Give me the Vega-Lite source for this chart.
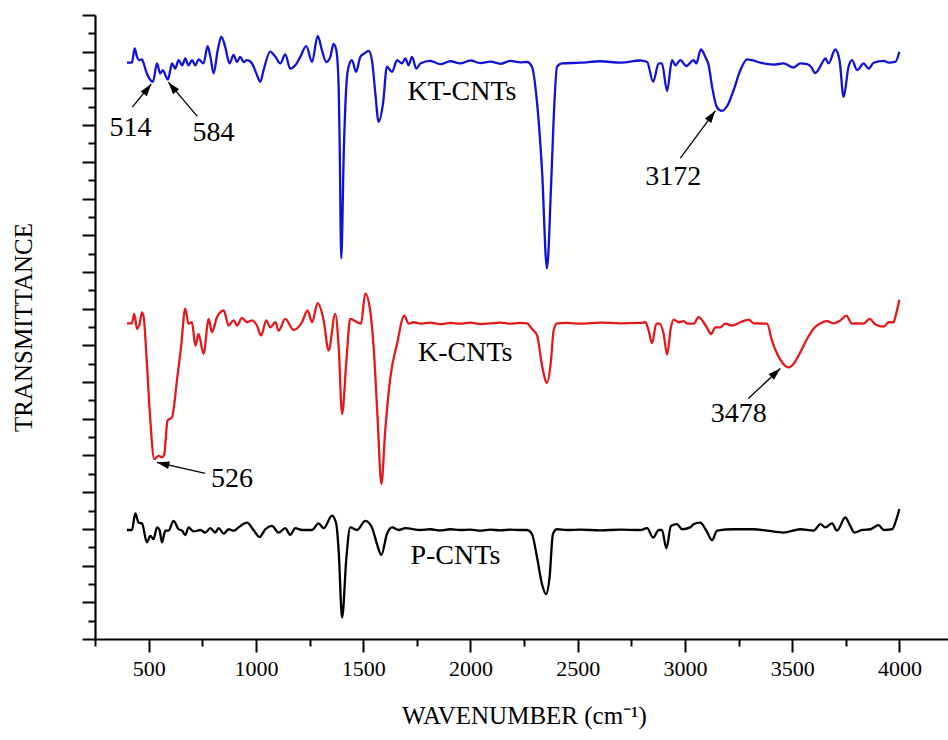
{
  "$schema": "https://vega.github.io/schema/vega-lite/v6.json",
  "width": 858,
  "height": 624,
  "autosize": {"type": "none"},
  "padding": {"left": 95, "top": 15, "right": 0, "bottom": 101},
  "background": "white",
  "config": {"view": {"stroke": null}, "font": "Liberation Serif"},
  "datasets": {
    "labels": [
      {"label": "514", "x": 415, "y": 139.1},
      {"label": "584", "x": 802, "y": 137.8},
      {"label": "3172", "x": 2946, "y": 125.8},
      {"label": "526", "x": 889, "y": 43.6},
      {"label": "3478", "x": 3251, "y": 61.3},
      {"label": "KT-CNTs", "x": 1961, "y": 149.1},
      {"label": "K-CNTs", "x": 1976, "y": 78.0},
      {"label": "P-CNTs", "x": 1930, "y": 22.6}
    ],
    "arrows": [
      {"x1": 424, "y1": 144.9, "x2": 512, "y2": 151.2, "ang": 37},
      {"x1": 727, "y1": 142.4, "x2": 592, "y2": 151.7, "ang": 321},
      {"x1": 2979, "y1": 131.0, "x2": 3142, "y2": 143.9, "ang": 36},
      {"x1": 764, "y1": 45.1, "x2": 539, "y2": 48.1, "ang": 283},
      {"x1": 3296, "y1": 65.5, "x2": 3445, "y2": 73.7, "ang": 47}
    ],
    "spectra": [
      {"s":"KT-CNTs","wn":399,"t":157.0},{"s":"KT-CNTs","wn":422,"t":157.0},{"s":"KT-CNTs","wn":435,"t":160.9},{"s":"KT-CNTs","wn":446,"t":158.6},{"s":"KT-CNTs","wn":458,"t":157.7},{"s":"KT-CNTs","wn":469,"t":157.9},{"s":"KT-CNTs","wn":477,"t":156.8},{"s":"KT-CNTs","wn":489,"t":154.5},{"s":"KT-CNTs","wn":508,"t":152.3},{"s":"KT-CNTs","wn":520,"t":151.8},{"s":"KT-CNTs","wn":539,"t":156.8},{"s":"KT-CNTs","wn":554,"t":154.1},{"s":"KT-CNTs","wn":567,"t":155.0},{"s":"KT-CNTs","wn":578,"t":153.6},{"s":"KT-CNTs","wn":590,"t":152.4},{"s":"KT-CNTs","wn":609,"t":156.8},{"s":"KT-CNTs","wn":624,"t":155.4},{"s":"KT-CNTs","wn":640,"t":157.7},{"s":"KT-CNTs","wn":656,"t":156.3},{"s":"KT-CNTs","wn":671,"t":158.2},{"s":"KT-CNTs","wn":686,"t":156.3},{"s":"KT-CNTs","wn":702,"t":157.7},{"s":"KT-CNTs","wn":718,"t":156.3},{"s":"KT-CNTs","wn":733,"t":157.9},{"s":"KT-CNTs","wn":756,"t":156.8},{"s":"KT-CNTs","wn":775,"t":161.5},{"s":"KT-CNTs","wn":788,"t":158.6},{"s":"KT-CNTs","wn":803,"t":154.1},{"s":"KT-CNTs","wn":822,"t":160.4},{"s":"KT-CNTs","wn":839,"t":164.1},{"s":"KT-CNTs","wn":857,"t":161.3},{"s":"KT-CNTs","wn":877,"t":156.8},{"s":"KT-CNTs","wn":896,"t":159.1},{"s":"KT-CNTs","wn":912,"t":157.2},{"s":"KT-CNTs","wn":927,"t":158.6},{"s":"KT-CNTs","wn":943,"t":157.2},{"s":"KT-CNTs","wn":959,"t":157.7},{"s":"KT-CNTs","wn":982,"t":156.8},{"s":"KT-CNTs","wn":1002,"t":154.1},{"s":"KT-CNTs","wn":1021,"t":151.8},{"s":"KT-CNTs","wn":1036,"t":155.0},{"s":"KT-CNTs","wn":1067,"t":160.0},{"s":"KT-CNTs","wn":1091,"t":158.6},{"s":"KT-CNTs","wn":1114,"t":156.8},{"s":"KT-CNTs","wn":1137,"t":159.3},{"s":"KT-CNTs","wn":1160,"t":155.4},{"s":"KT-CNTs","wn":1184,"t":156.3},{"s":"KT-CNTs","wn":1207,"t":158.6},{"s":"KT-CNTs","wn":1235,"t":161.5},{"s":"KT-CNTs","wn":1262,"t":157.2},{"s":"KT-CNTs","wn":1288,"t":164.3},{"s":"KT-CNTs","wn":1308,"t":160.4},{"s":"KT-CNTs","wn":1328,"t":157.2},{"s":"KT-CNTs","wn":1347,"t":158.6},{"s":"KT-CNTs","wn":1362,"t":162.1},{"s":"KT-CNTs","wn":1375,"t":160.4},{"s":"KT-CNTs","wn":1386,"t":150.4},{"s":"KT-CNTs","wn":1391,"t":133.2},{"s":"KT-CNTs","wn":1398,"t":103.7},{"s":"KT-CNTs","wn":1410,"t":133.2},{"s":"KT-CNTs","wn":1422,"t":150.9},{"s":"KT-CNTs","wn":1432,"t":155.9},{"s":"KT-CNTs","wn":1448,"t":157.7},{"s":"KT-CNTs","wn":1467,"t":154.5},{"s":"KT-CNTs","wn":1487,"t":158.6},{"s":"KT-CNTs","wn":1505,"t":159.5},{"s":"KT-CNTs","wn":1526,"t":160.2},{"s":"KT-CNTs","wn":1541,"t":157.7},{"s":"KT-CNTs","wn":1557,"t":148.6},{"s":"KT-CNTs","wn":1572,"t":140.9},{"s":"KT-CNTs","wn":1593,"t":146.0},{"s":"KT-CNTs","wn":1611,"t":155.9},{"s":"KT-CNTs","wn":1635,"t":154.5},{"s":"KT-CNTs","wn":1658,"t":157.7},{"s":"KT-CNTs","wn":1681,"t":156.8},{"s":"KT-CNTs","wn":1697,"t":158.2},{"s":"KT-CNTs","wn":1712,"t":156.3},{"s":"KT-CNTs","wn":1728,"t":158.6},{"s":"KT-CNTs","wn":1748,"t":155.4},{"s":"KT-CNTs","wn":1767,"t":156.8},{"s":"KT-CNTs","wn":1813,"t":157.5},{"s":"KT-CNTs","wn":1860,"t":156.6},{"s":"KT-CNTs","wn":1907,"t":157.4},{"s":"KT-CNTs","wn":1953,"t":156.8},{"s":"KT-CNTs","wn":2000,"t":157.6},{"s":"KT-CNTs","wn":2046,"t":156.9},{"s":"KT-CNTs","wn":2093,"t":157.3},{"s":"KT-CNTs","wn":2140,"t":156.7},{"s":"KT-CNTs","wn":2186,"t":157.5},{"s":"KT-CNTs","wn":2233,"t":157.1},{"s":"KT-CNTs","wn":2264,"t":157.2},{"s":"KT-CNTs","wn":2287,"t":155.9},{"s":"KT-CNTs","wn":2311,"t":146.0},{"s":"KT-CNTs","wn":2334,"t":127.7},{"s":"KT-CNTs","wn":2357,"t":101.0},{"s":"KT-CNTs","wn":2376,"t":123.1},{"s":"KT-CNTs","wn":2388,"t":141.3},{"s":"KT-CNTs","wn":2404,"t":155.9},{"s":"KT-CNTs","wn":2427,"t":156.8},{"s":"KT-CNTs","wn":2513,"t":157.0},{"s":"KT-CNTs","wn":2606,"t":157.4},{"s":"KT-CNTs","wn":2699,"t":157.0},{"s":"KT-CNTs","wn":2792,"t":157.6},{"s":"KT-CNTs","wn":2824,"t":157.2},{"s":"KT-CNTs","wn":2852,"t":151.8},{"s":"KT-CNTs","wn":2878,"t":156.8},{"s":"KT-CNTs","wn":2893,"t":156.8},{"s":"KT-CNTs","wn":2917,"t":149.3},{"s":"KT-CNTs","wn":2940,"t":157.7},{"s":"KT-CNTs","wn":2956,"t":156.3},{"s":"KT-CNTs","wn":2979,"t":157.7},{"s":"KT-CNTs","wn":3007,"t":156.1},{"s":"KT-CNTs","wn":3041,"t":157.7},{"s":"KT-CNTs","wn":3053,"t":156.8},{"s":"KT-CNTs","wn":3075,"t":160.6},{"s":"KT-CNTs","wn":3095,"t":158.6},{"s":"KT-CNTs","wn":3111,"t":156.3},{"s":"KT-CNTs","wn":3127,"t":150.4},{"s":"KT-CNTs","wn":3150,"t":144.8},{"s":"KT-CNTs","wn":3173,"t":143.9},{"s":"KT-CNTs","wn":3199,"t":145.4},{"s":"KT-CNTs","wn":3227,"t":149.5},{"s":"KT-CNTs","wn":3259,"t":155.0},{"s":"KT-CNTs","wn":3290,"t":157.9},{"s":"KT-CNTs","wn":3313,"t":157.7},{"s":"KT-CNTs","wn":3352,"t":157.0},{"s":"KT-CNTs","wn":3414,"t":156.5},{"s":"KT-CNTs","wn":3460,"t":156.8},{"s":"KT-CNTs","wn":3507,"t":155.7},{"s":"KT-CNTs","wn":3538,"t":156.8},{"s":"KT-CNTs","wn":3570,"t":156.6},{"s":"KT-CNTs","wn":3588,"t":155.9},{"s":"KT-CNTs","wn":3608,"t":154.2},{"s":"KT-CNTs","wn":3639,"t":156.8},{"s":"KT-CNTs","wn":3655,"t":158.2},{"s":"KT-CNTs","wn":3670,"t":156.8},{"s":"KT-CNTs","wn":3701,"t":160.6},{"s":"KT-CNTs","wn":3721,"t":157.7},{"s":"KT-CNTs","wn":3740,"t":147.7},{"s":"KT-CNTs","wn":3763,"t":155.9},{"s":"KT-CNTs","wn":3779,"t":157.7},{"s":"KT-CNTs","wn":3803,"t":155.0},{"s":"KT-CNTs","wn":3833,"t":156.8},{"s":"KT-CNTs","wn":3857,"t":155.4},{"s":"KT-CNTs","wn":3880,"t":157.0},{"s":"KT-CNTs","wn":3927,"t":157.5},{"s":"KT-CNTs","wn":3950,"t":157.0},{"s":"KT-CNTs","wn":3981,"t":157.2},{"s":"KT-CNTs","wn":4000,"t":160.0},
      {"s":"K-CNTs","wn":399,"t":86.0},{"s":"K-CNTs","wn":422,"t":86.0},{"s":"K-CNTs","wn":433,"t":88.6},{"s":"K-CNTs","wn":446,"t":84.5},{"s":"K-CNTs","wn":458,"t":85.9},{"s":"K-CNTs","wn":469,"t":89.0},{"s":"K-CNTs","wn":477,"t":87.7},{"s":"K-CNTs","wn":492,"t":75.0},{"s":"K-CNTs","wn":508,"t":59.5},{"s":"K-CNTs","wn":526,"t":49.0},{"s":"K-CNTs","wn":546,"t":49.9},{"s":"K-CNTs","wn":562,"t":49.5},{"s":"K-CNTs","wn":573,"t":50.4},{"s":"K-CNTs","wn":588,"t":59.5},{"s":"K-CNTs","wn":609,"t":60.4},{"s":"K-CNTs","wn":632,"t":70.4},{"s":"K-CNTs","wn":651,"t":79.5},{"s":"K-CNTs","wn":671,"t":90.0},{"s":"K-CNTs","wn":686,"t":85.9},{"s":"K-CNTs","wn":702,"t":86.3},{"s":"K-CNTs","wn":718,"t":79.9},{"s":"K-CNTs","wn":733,"t":83.1},{"s":"K-CNTs","wn":756,"t":77.7},{"s":"K-CNTs","wn":780,"t":87.2},{"s":"K-CNTs","wn":795,"t":83.6},{"s":"K-CNTs","wn":819,"t":87.7},{"s":"K-CNTs","wn":850,"t":89.5},{"s":"K-CNTs","wn":873,"t":85.4},{"s":"K-CNTs","wn":896,"t":86.8},{"s":"K-CNTs","wn":912,"t":85.4},{"s":"K-CNTs","wn":935,"t":87.5},{"s":"K-CNTs","wn":959,"t":86.3},{"s":"K-CNTs","wn":982,"t":86.8},{"s":"K-CNTs","wn":1005,"t":85.4},{"s":"K-CNTs","wn":1024,"t":82.7},{"s":"K-CNTs","wn":1049,"t":86.8},{"s":"K-CNTs","wn":1067,"t":84.9},{"s":"K-CNTs","wn":1091,"t":86.3},{"s":"K-CNTs","wn":1106,"t":84.0},{"s":"K-CNTs","wn":1137,"t":87.2},{"s":"K-CNTs","wn":1176,"t":84.2},{"s":"K-CNTs","wn":1215,"t":86.3},{"s":"K-CNTs","wn":1241,"t":89.5},{"s":"K-CNTs","wn":1262,"t":86.3},{"s":"K-CNTs","wn":1288,"t":91.5},{"s":"K-CNTs","wn":1316,"t":86.8},{"s":"K-CNTs","wn":1339,"t":78.6},{"s":"K-CNTs","wn":1370,"t":88.6},{"s":"K-CNTs","wn":1386,"t":79.5},{"s":"K-CNTs","wn":1402,"t":61.3},{"s":"K-CNTs","wn":1422,"t":75.9},{"s":"K-CNTs","wn":1440,"t":87.2},{"s":"K-CNTs","wn":1472,"t":86.3},{"s":"K-CNTs","wn":1490,"t":85.9},{"s":"K-CNTs","wn":1510,"t":94.1},{"s":"K-CNTs","wn":1534,"t":89.0},{"s":"K-CNTs","wn":1549,"t":79.5},{"s":"K-CNTs","wn":1568,"t":59.5},{"s":"K-CNTs","wn":1585,"t":42.2},{"s":"K-CNTs","wn":1603,"t":56.8},{"s":"K-CNTs","wn":1627,"t":71.3},{"s":"K-CNTs","wn":1658,"t":80.4},{"s":"K-CNTs","wn":1692,"t":88.1},{"s":"K-CNTs","wn":1712,"t":85.9},{"s":"K-CNTs","wn":1735,"t":86.3},{"s":"K-CNTs","wn":1767,"t":85.9},{"s":"K-CNTs","wn":1813,"t":86.2},{"s":"K-CNTs","wn":1860,"t":85.8},{"s":"K-CNTs","wn":1906,"t":86.1},{"s":"K-CNTs","wn":1953,"t":85.9},{"s":"K-CNTs","wn":2000,"t":86.2},{"s":"K-CNTs","wn":2046,"t":85.8},{"s":"K-CNTs","wn":2093,"t":86.0},{"s":"K-CNTs","wn":2140,"t":86.2},{"s":"K-CNTs","wn":2186,"t":85.9},{"s":"K-CNTs","wn":2233,"t":86.1},{"s":"K-CNTs","wn":2264,"t":86.0},{"s":"K-CNTs","wn":2287,"t":84.5},{"s":"K-CNTs","wn":2311,"t":82.7},{"s":"K-CNTs","wn":2334,"t":74.5},{"s":"K-CNTs","wn":2357,"t":69.8},{"s":"K-CNTs","wn":2376,"t":75.9},{"s":"K-CNTs","wn":2388,"t":84.0},{"s":"K-CNTs","wn":2404,"t":86.0},{"s":"K-CNTs","wn":2450,"t":86.1},{"s":"K-CNTs","wn":2513,"t":85.9},{"s":"K-CNTs","wn":2606,"t":86.2},{"s":"K-CNTs","wn":2699,"t":86.0},{"s":"K-CNTs","wn":2792,"t":86.1},{"s":"K-CNTs","wn":2816,"t":86.3},{"s":"K-CNTs","wn":2831,"t":84.0},{"s":"K-CNTs","wn":2847,"t":80.6},{"s":"K-CNTs","wn":2867,"t":85.9},{"s":"K-CNTs","wn":2882,"t":85.9},{"s":"K-CNTs","wn":2901,"t":83.1},{"s":"K-CNTs","wn":2917,"t":77.5},{"s":"K-CNTs","wn":2935,"t":84.9},{"s":"K-CNTs","wn":2948,"t":87.0},{"s":"K-CNTs","wn":2971,"t":86.3},{"s":"K-CNTs","wn":2994,"t":86.6},{"s":"K-CNTs","wn":3013,"t":85.9},{"s":"K-CNTs","wn":3041,"t":85.9},{"s":"K-CNTs","wn":3064,"t":87.7},{"s":"K-CNTs","wn":3087,"t":86.3},{"s":"K-CNTs","wn":3106,"t":84.5},{"s":"K-CNTs","wn":3122,"t":83.1},{"s":"K-CNTs","wn":3142,"t":84.9},{"s":"K-CNTs","wn":3165,"t":84.9},{"s":"K-CNTs","wn":3189,"t":85.9},{"s":"K-CNTs","wn":3220,"t":85.4},{"s":"K-CNTs","wn":3259,"t":86.3},{"s":"K-CNTs","wn":3297,"t":87.0},{"s":"K-CNTs","wn":3321,"t":86.0},{"s":"K-CNTs","wn":3383,"t":85.9},{"s":"K-CNTs","wn":3406,"t":81.3},{"s":"K-CNTs","wn":3430,"t":77.7},{"s":"K-CNTs","wn":3458,"t":75.0},{"s":"K-CNTs","wn":3484,"t":74.0},{"s":"K-CNTs","wn":3507,"t":75.0},{"s":"K-CNTs","wn":3538,"t":78.1},{"s":"K-CNTs","wn":3570,"t":81.8},{"s":"K-CNTs","wn":3600,"t":84.5},{"s":"K-CNTs","wn":3632,"t":86.0},{"s":"K-CNTs","wn":3663,"t":86.6},{"s":"K-CNTs","wn":3694,"t":86.0},{"s":"K-CNTs","wn":3725,"t":86.8},{"s":"K-CNTs","wn":3753,"t":88.1},{"s":"K-CNTs","wn":3779,"t":85.9},{"s":"K-CNTs","wn":3810,"t":86.0},{"s":"K-CNTs","wn":3833,"t":85.9},{"s":"K-CNTs","wn":3861,"t":87.2},{"s":"K-CNTs","wn":3888,"t":85.7},{"s":"K-CNTs","wn":3927,"t":85.1},{"s":"K-CNTs","wn":3950,"t":86.3},{"s":"K-CNTs","wn":3973,"t":86.3},{"s":"K-CNTs","wn":3981,"t":87.7},{"s":"K-CNTs","wn":4000,"t":92.4},
      {"s":"P-CNTs","wn":399,"t":29.7},{"s":"P-CNTs","wn":422,"t":29.7},{"s":"P-CNTs","wn":438,"t":34.2},{"s":"P-CNTs","wn":453,"t":31.7},{"s":"P-CNTs","wn":469,"t":31.5},{"s":"P-CNTs","wn":492,"t":26.3},{"s":"P-CNTs","wn":508,"t":28.1},{"s":"P-CNTs","wn":523,"t":27.2},{"s":"P-CNTs","wn":539,"t":30.4},{"s":"P-CNTs","wn":551,"t":29.7},{"s":"P-CNTs","wn":562,"t":26.3},{"s":"P-CNTs","wn":578,"t":29.5},{"s":"P-CNTs","wn":593,"t":29.5},{"s":"P-CNTs","wn":616,"t":32.2},{"s":"P-CNTs","wn":640,"t":29.9},{"s":"P-CNTs","wn":656,"t":29.5},{"s":"P-CNTs","wn":671,"t":28.3},{"s":"P-CNTs","wn":686,"t":30.4},{"s":"P-CNTs","wn":710,"t":29.3},{"s":"P-CNTs","wn":741,"t":29.7},{"s":"P-CNTs","wn":764,"t":29.0},{"s":"P-CNTs","wn":788,"t":30.2},{"s":"P-CNTs","wn":811,"t":29.0},{"s":"P-CNTs","wn":826,"t":30.2},{"s":"P-CNTs","wn":850,"t":28.7},{"s":"P-CNTs","wn":873,"t":29.9},{"s":"P-CNTs","wn":896,"t":29.5},{"s":"P-CNTs","wn":919,"t":30.4},{"s":"P-CNTs","wn":959,"t":31.7},{"s":"P-CNTs","wn":989,"t":29.7},{"s":"P-CNTs","wn":1017,"t":27.8},{"s":"P-CNTs","wn":1044,"t":29.9},{"s":"P-CNTs","wn":1075,"t":30.8},{"s":"P-CNTs","wn":1106,"t":29.0},{"s":"P-CNTs","wn":1137,"t":30.2},{"s":"P-CNTs","wn":1160,"t":28.4},{"s":"P-CNTs","wn":1184,"t":30.2},{"s":"P-CNTs","wn":1215,"t":29.7},{"s":"P-CNTs","wn":1262,"t":29.7},{"s":"P-CNTs","wn":1292,"t":31.5},{"s":"P-CNTs","wn":1316,"t":30.2},{"s":"P-CNTs","wn":1355,"t":33.6},{"s":"P-CNTs","wn":1375,"t":31.3},{"s":"P-CNTs","wn":1386,"t":24.0},{"s":"P-CNTs","wn":1402,"t":5.8},{"s":"P-CNTs","wn":1422,"t":22.2},{"s":"P-CNTs","wn":1440,"t":30.4},{"s":"P-CNTs","wn":1472,"t":29.7},{"s":"P-CNTs","wn":1510,"t":32.2},{"s":"P-CNTs","wn":1541,"t":30.4},{"s":"P-CNTs","wn":1565,"t":25.8},{"s":"P-CNTs","wn":1585,"t":22.9},{"s":"P-CNTs","wn":1611,"t":28.6},{"s":"P-CNTs","wn":1635,"t":30.4},{"s":"P-CNTs","wn":1666,"t":29.7},{"s":"P-CNTs","wn":1697,"t":30.2},{"s":"P-CNTs","wn":1767,"t":29.7},{"s":"P-CNTs","wn":1813,"t":29.9},{"s":"P-CNTs","wn":1860,"t":29.6},{"s":"P-CNTs","wn":1906,"t":29.9},{"s":"P-CNTs","wn":1953,"t":29.7},{"s":"P-CNTs","wn":2000,"t":29.8},{"s":"P-CNTs","wn":2046,"t":29.5},{"s":"P-CNTs","wn":2093,"t":29.8},{"s":"P-CNTs","wn":2140,"t":29.6},{"s":"P-CNTs","wn":2186,"t":29.8},{"s":"P-CNTs","wn":2233,"t":29.7},{"s":"P-CNTs","wn":2264,"t":29.7},{"s":"P-CNTs","wn":2287,"t":28.6},{"s":"P-CNTs","wn":2311,"t":22.2},{"s":"P-CNTs","wn":2334,"t":14.9},{"s":"P-CNTs","wn":2353,"t":12.2},{"s":"P-CNTs","wn":2369,"t":16.7},{"s":"P-CNTs","wn":2385,"t":28.6},{"s":"P-CNTs","wn":2404,"t":29.9},{"s":"P-CNTs","wn":2450,"t":29.7},{"s":"P-CNTs","wn":2513,"t":29.8},{"s":"P-CNTs","wn":2606,"t":29.6},{"s":"P-CNTs","wn":2699,"t":29.8},{"s":"P-CNTs","wn":2792,"t":29.7},{"s":"P-CNTs","wn":2824,"t":30.2},{"s":"P-CNTs","wn":2852,"t":27.6},{"s":"P-CNTs","wn":2878,"t":29.7},{"s":"P-CNTs","wn":2893,"t":29.7},{"s":"P-CNTs","wn":2914,"t":24.7},{"s":"P-CNTs","wn":2935,"t":30.8},{"s":"P-CNTs","wn":2963,"t":31.3},{"s":"P-CNTs","wn":2987,"t":29.9},{"s":"P-CNTs","wn":3025,"t":30.4},{"s":"P-CNTs","wn":3041,"t":31.3},{"s":"P-CNTs","wn":3072,"t":31.7},{"s":"P-CNTs","wn":3100,"t":29.5},{"s":"P-CNTs","wn":3127,"t":26.9},{"s":"P-CNTs","wn":3150,"t":29.5},{"s":"P-CNTs","wn":3227,"t":29.9},{"s":"P-CNTs","wn":3321,"t":29.9},{"s":"P-CNTs","wn":3383,"t":29.5},{"s":"P-CNTs","wn":3460,"t":29.0},{"s":"P-CNTs","wn":3538,"t":29.9},{"s":"P-CNTs","wn":3600,"t":29.5},{"s":"P-CNTs","wn":3632,"t":31.3},{"s":"P-CNTs","wn":3655,"t":30.4},{"s":"P-CNTs","wn":3686,"t":31.5},{"s":"P-CNTs","wn":3709,"t":29.5},{"s":"P-CNTs","wn":3748,"t":33.1},{"s":"P-CNTs","wn":3771,"t":30.8},{"s":"P-CNTs","wn":3790,"t":29.0},{"s":"P-CNTs","wn":3826,"t":29.7},{"s":"P-CNTs","wn":3865,"t":29.9},{"s":"P-CNTs","wn":3903,"t":31.0},{"s":"P-CNTs","wn":3927,"t":29.7},{"s":"P-CNTs","wn":3966,"t":29.9},{"s":"P-CNTs","wn":3981,"t":31.7},{"s":"P-CNTs","wn":4000,"t":35.4}
    ]
  },
  "layer": [
    {
      "data": {"name": "spectra"},
      "mark": {"type": "line", "strokeWidth": 2.3, "interpolate": "monotone"},
      "encoding": {
        "x": {
          "field": "wn", "type": "quantitative",
          "scale": {"domain": [250, 4250], "nice": false, "zero": false},
          "axis": {
            "title": "WAVENUMBER (cm⁻¹)",
            "values": [250, 500, 750, 1000, 1250, 1500, 1750, 2000, 2250, 2500, 2750, 3000, 3250, 3500, 3750, 4000],
            "tickCount": 40,
            "format": "d",
            "labelExpr": "datum.value % 500 === 0 ? datum.label : ''",
            "tickSize": {"condition": {"test": "datum.value % 500 === 0", "value": 13}, "value": 7},
            "tickWidth": 2, "tickColor": "black",
            "domainWidth": 2.2, "domainColor": "black",
            "labelFont": "Liberation Serif", "labelFontSize": 22, "labelColor": "black",
            "labelPadding": 6, "labelOverlap": false, "labelFlush": false,
            "titleFont": "Liberation Serif", "titleFontSize": 25, "titleFontWeight": "normal", "titleColor": "black",
            "titlePadding": 24, "grid": false
          }
        },
        "y": {
          "field": "t", "type": "quantitative",
          "scale": {"domain": [0, 170], "nice": false, "zero": false},
          "axis": {
            "title": "TRANSMITTANCE",
            "values": [0, 5, 10, 15, 20, 25, 30, 35, 40, 45, 50, 55, 60, 65, 70, 75, 80, 85, 90, 95, 100, 105, 110, 115, 120, 125, 130, 135, 140, 145, 150, 155, 160, 165, 170],
            "tickCount": 40,
            "labels": false,
            "tickSize": {"condition": {"test": "datum.value % 10 === 0", "value": 13}, "value": 7},
            "tickWidth": 2, "tickColor": "black",
            "domainWidth": 2.2, "domainColor": "black",
            "titleFont": "Liberation Serif", "titleFontSize": 25, "titleFontWeight": "normal", "titleColor": "black",
            "titlePadding": 45, "grid": false
          }
        },
        "color": {
          "field": "s", "type": "nominal",
          "scale": {"domain": ["KT-CNTs", "K-CNTs", "P-CNTs"], "range": ["#1212d2", "#e3191c", "#000000"]},
          "legend": null
        }
      }
    },
    {
      "data": {"name": "arrows"},
      "mark": {"type": "rule", "strokeWidth": 1.3, "color": "black"},
      "encoding": {
        "x": {"field": "x1", "type": "quantitative"},
        "y": {"field": "y1", "type": "quantitative"},
        "x2": {"field": "x2"},
        "y2": {"field": "y2"}
      }
    },
    {
      "data": {"name": "arrows"},
      "mark": {"type": "point", "shape": "M0,0 L0.6,1.9 L-0.6,1.9 Z", "filled": true, "color": "black", "opacity": 1, "size": 169, "strokeWidth": 0},
      "encoding": {
        "x": {"field": "x2", "type": "quantitative"},
        "y": {"field": "y2", "type": "quantitative"},
        "angle": {"field": "ang", "type": "quantitative", "scale": null}
      }
    },
    {
      "data": {"name": "labels"},
      "mark": {"type": "text", "font": "Liberation Serif", "fontSize": 28, "color": "black", "align": "center", "baseline": "middle"},
      "encoding": {
        "x": {"field": "x", "type": "quantitative"},
        "y": {"field": "y", "type": "quantitative"},
        "text": {"field": "label"}
      }
    }
  ]
}
